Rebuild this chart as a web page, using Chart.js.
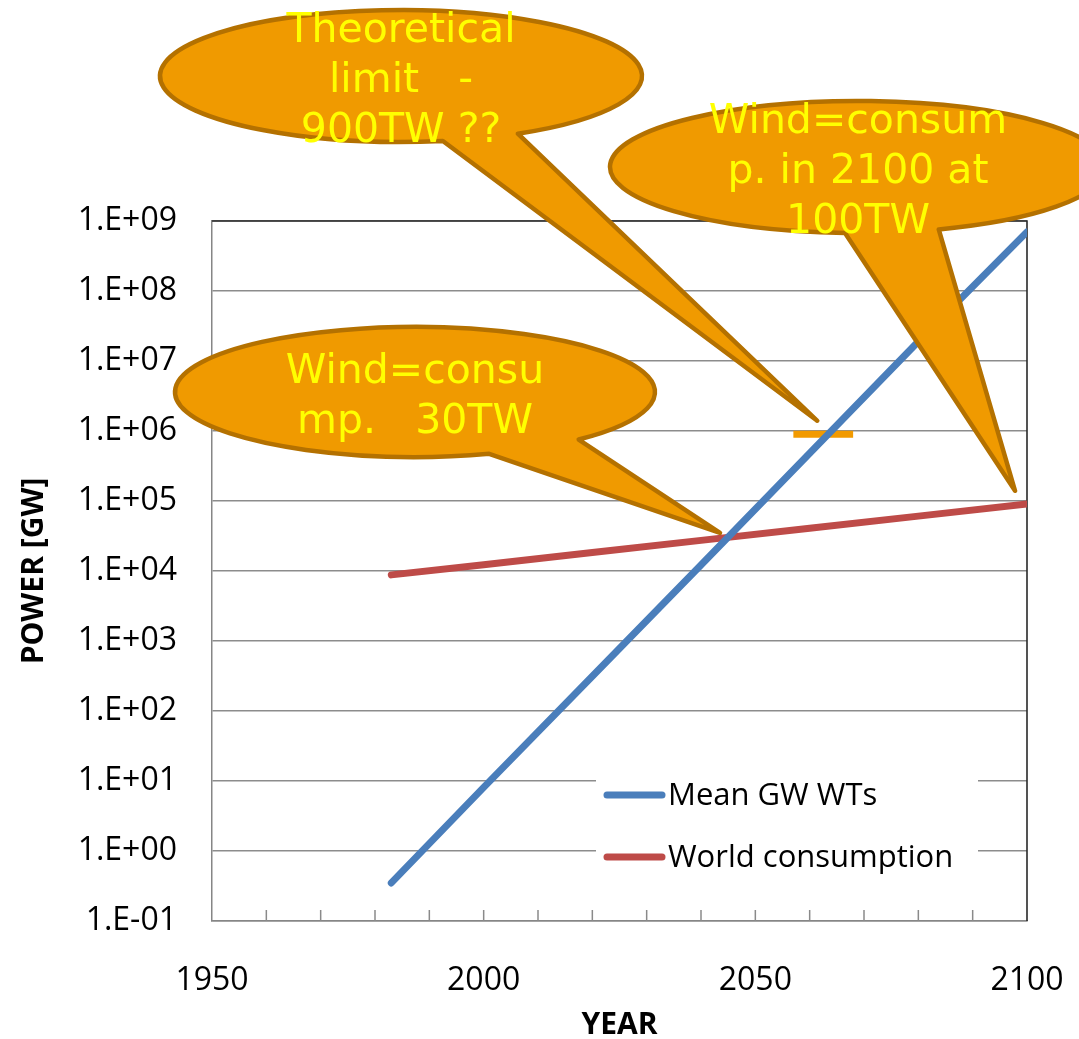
<!DOCTYPE html>
<html>
<head>
<meta charset="utf-8">
<title>Wind power growth vs world consumption</title>
<script src="https://cdn.jsdelivr.net/npm/chart.js@4/dist/chart.umd.min.js"></script>
<style>
  html, body { margin: 0; padding: 0; background: #ffffff; }
  #wrap { width: 1079px; height: 1039px; }
  canvas { display: block; }
</style>
</head>
<body>
<div id="wrap"><canvas id="chart" width="1079" height="1039"></canvas></div>
<script>
// ---- data ----
const years = [1983, 2000, 2020, 2040, 2060, 2080, 2100];
const meanGwWts = [0.35, 8.1, 313, 12200, 480000, 19000000, 700000000];
const worldConsumption = [8800, 12300, 18400, 27400, 40800, 60800, 90600];
const seriesNames = ['Mean GW WTs', 'World consumption'];

// theoretical limit marker (900 TW = 9e5 GW)
const limitYears = [2057, 2068];
const limitValues = [900000, 900000];

// axis ticks
const yTickValues = [0.1, 1, 10, 100, 1000, 10000, 100000, 1000000, 10000000, 100000000, 1000000000];
const yTickLabels = ['1.E-01', '1.E+00', '1.E+01', '1.E+02', '1.E+03', '1.E+04', '1.E+05', '1.E+06', '1.E+07', '1.E+08', '1.E+09'];
const xTickYears = [1950, 1960, 1970, 1980, 1990, 2000, 2010, 2020, 2030, 2040, 2050, 2060, 2070, 2080, 2090, 2100];
const xLabelYears = [1950, 2000, 2050, 2100];

// callout texts and the data points their pointers aim at
const calloutTexts = [
  ['Theoretical', 'limit   -', '900TW ??'],
  ['Wind=consum', 'p. in 2100 at', '100TW'],
  ['Wind=consu', 'mp.   30TW']
];
const calloutTipYears = [2061.4, 2097.8, 2043.5];
const calloutTipValues = [1400000, 140000, 35000];

// ---- styling / layout ----
const BLUE = '#4A7EBB';
const RED = '#BE4B48';
const ORANGE = '#F29A00';
const CALLOUT_FILL = '#F09A00';
const CALLOUT_EDGE = '#B47100';
const GRID = '#8c8c8c';

// oval callout geometry: centre, radii, and the two ellipse angles (deg) where the pointer leaves the oval
const calloutShapes = [
  { cx: 401, cy: 76, rx: 241, ry: 66, a1: 61, a2: 80 },
  { cx: 858, cy: 167, rx: 248, ry: 66, a1: 71, a2: 93 },
  { cx: 415, cy: 392, rx: 240, ry: 65, a1: 47, a2: 72 }
];

const pts = (xs, ys) => xs.map((x, i) => ({ x: x, y: ys[i] }));

// plot frame: dark top/right edges plus inward tick marks on the year axis
const framePlugin = {
  id: 'frame',
  beforeDatasetsDraw(chart) {
    const { ctx, chartArea: a, scales: { x } } = chart;
    ctx.save();
    ctx.strokeStyle = '#8a8a8a';
    ctx.lineWidth = 1.5;
    x.ticks.forEach(t => {
      if (t.value <= x.min || t.value >= x.max) return;
      const px = x.getPixelForValue(t.value);
      ctx.beginPath();
      ctx.moveTo(px, a.bottom);
      ctx.lineTo(px, a.bottom - 11);
      ctx.stroke();
    });
    ctx.strokeStyle = '#2a2a2a';
    ctx.lineWidth = 1.6;
    ctx.beginPath();
    ctx.moveTo(a.left, a.top);
    ctx.lineTo(a.right, a.top);
    ctx.lineTo(a.right, a.bottom);
    ctx.stroke();
    ctx.restore();
  }
};

// legend box sitting inside the plot, lower right
const legendBox = { left: 596, top: 768, right: 978, bottom: 884, rowY: [795, 857], lineX0: 607, lineX1: 662, textX: 668 };
const insideLegendPlugin = {
  id: 'insideLegend',
  afterDatasetsDraw(chart) {
    const { ctx } = chart;
    const b = legendBox;
    ctx.save();
    ctx.fillStyle = '#ffffff';
    ctx.fillRect(b.left, b.top, b.right - b.left, b.bottom - b.top);
    chart.data.datasets.filter(d => d.inLegend).forEach((d, i) => {
      const y = b.rowY[i];
      ctx.strokeStyle = d.borderColor;
      ctx.lineWidth = 7;
      ctx.lineCap = 'round';
      ctx.beginPath();
      ctx.moveTo(b.lineX0, y);
      ctx.lineTo(b.lineX1, y);
      ctx.stroke();
      ctx.fillStyle = '#000000';
      ctx.font = '31px "Open Sans"';
      ctx.textAlign = 'left';
      ctx.textBaseline = 'middle';
      ctx.fillText(d.label, b.textX, y + 1);
    });
    ctx.restore();
  }
};

// oval callouts with a wedge pointer aimed at a data point
const calloutPlugin = {
  id: 'callouts',
  afterDraw(chart) {
    const { ctx, scales: { x, y } } = chart;
    const rad = Math.PI / 180;
    calloutShapes.forEach((s, i) => {
      const tipX = x.getPixelForValue(calloutTipYears[i]);
      const tipY = y.getPixelForValue(calloutTipValues[i]);
      ctx.save();
      ctx.beginPath();
      ctx.ellipse(s.cx, s.cy, s.rx, s.ry, 0, s.a2 * rad, (s.a1 + 360) * rad, false);
      ctx.lineTo(tipX, tipY);
      ctx.closePath();
      ctx.fillStyle = CALLOUT_FILL;
      ctx.fill();
      ctx.lineJoin = 'round';
      ctx.lineWidth = 4.5;
      ctx.strokeStyle = CALLOUT_EDGE;
      ctx.stroke();

      const lines = calloutTexts[i];
      ctx.fillStyle = '#FFFF00';
      ctx.font = '41px "DejaVu Sans"';
      ctx.textAlign = 'center';
      ctx.textBaseline = 'alphabetic';
      const spacing = 50;
      const mid = (lines.length - 1) / 2;
      lines.forEach((t, k) => {
        ctx.fillText(t, s.cx, s.cy + 16 + (k - mid) * spacing);
      });
      ctx.restore();
    });
  }
};

new Chart(document.getElementById('chart'), {
  type: 'line',
  data: {
    datasets: [
      {
        label: seriesNames[0],
        data: pts(years, meanGwWts),
        borderColor: BLUE,
        borderWidth: 7,
        borderCapStyle: 'round',
        pointRadius: 0,
        inLegend: true
      },
      {
        label: seriesNames[1],
        data: pts(years, worldConsumption),
        borderColor: RED,
        borderWidth: 7,
        borderCapStyle: 'round',
        pointRadius: 0,
        inLegend: true
      },
      {
        label: 'Theoretical limit',
        data: pts(limitYears, limitValues),
        borderColor: ORANGE,
        borderWidth: 7,
        borderCapStyle: 'butt',
        pointRadius: 0,
        inLegend: false
      }
    ]
  },
  options: {
    responsive: false,
    devicePixelRatio: 1,
    animation: false,
    events: [],
    layout: { padding: { left: 0, right: 52, top: 221, bottom: 0 } },
    plugins: {
      legend: { display: false },
      tooltip: { enabled: false }
    },
    scales: {
      x: {
        type: 'linear',
        min: 1950,
        max: 2100,
        afterBuildTicks(scale) {
          scale.ticks = xTickYears.map(v => ({ value: v }));
        },
        afterFit(scale) {
          scale.height = 118;
          scale.paddingLeft = 0;
          scale.paddingRight = 0;
        },
        grid: { display: true, drawOnChartArea: false, drawTicks: false },
        border: { display: true, color: '#868686', width: 1.5 },
        ticks: {
          autoSkip: false,
          maxRotation: 0,
          padding: 41,
          color: '#000000',
          font: { family: '"Open Sans"', size: 32, lineHeight: 1.2 },
          callback: (v) => xLabelYears.includes(v) ? String(v) : ''
        },
        title: {
          display: true,
          text: 'YEAR',
          color: '#000000',
          font: { family: '"Open Sans"', size: 30, weight: 'bold', lineHeight: 1.2 },
          padding: { top: 0, bottom: -4 }
        }
      },
      y: {
        type: 'logarithmic',
        min: 0.1,
        max: 1000000000,
        afterBuildTicks(scale) {
          scale.ticks = yTickValues.map(v => ({ value: v }));
        },
        afterFit(scale) {
          scale.width = 212;
          scale.paddingTop = 0;
          scale.paddingBottom = 0;
        },
        grid: { color: GRID, lineWidth: 1.5, drawTicks: false },
        border: { display: true, color: '#868686', width: 1.5 },
        ticks: {
          autoSkip: false,
          padding: 35,
          color: '#000000',
          font: { family: '"Open Sans"', size: 32, lineHeight: 1.2 },
          callback: (v, i) => yTickLabels[i]
        },
        title: {
          display: true,
          text: 'POWER [GW]',
          color: '#000000',
          font: { family: '"Open Sans"', size: 30, weight: 'bold', lineHeight: 1.2 },
          padding: { top: 16, bottom: 0 }
        }
      }
    }
  },
  plugins: [framePlugin, insideLegendPlugin, calloutPlugin]
});
</script>
</body>
</html>
